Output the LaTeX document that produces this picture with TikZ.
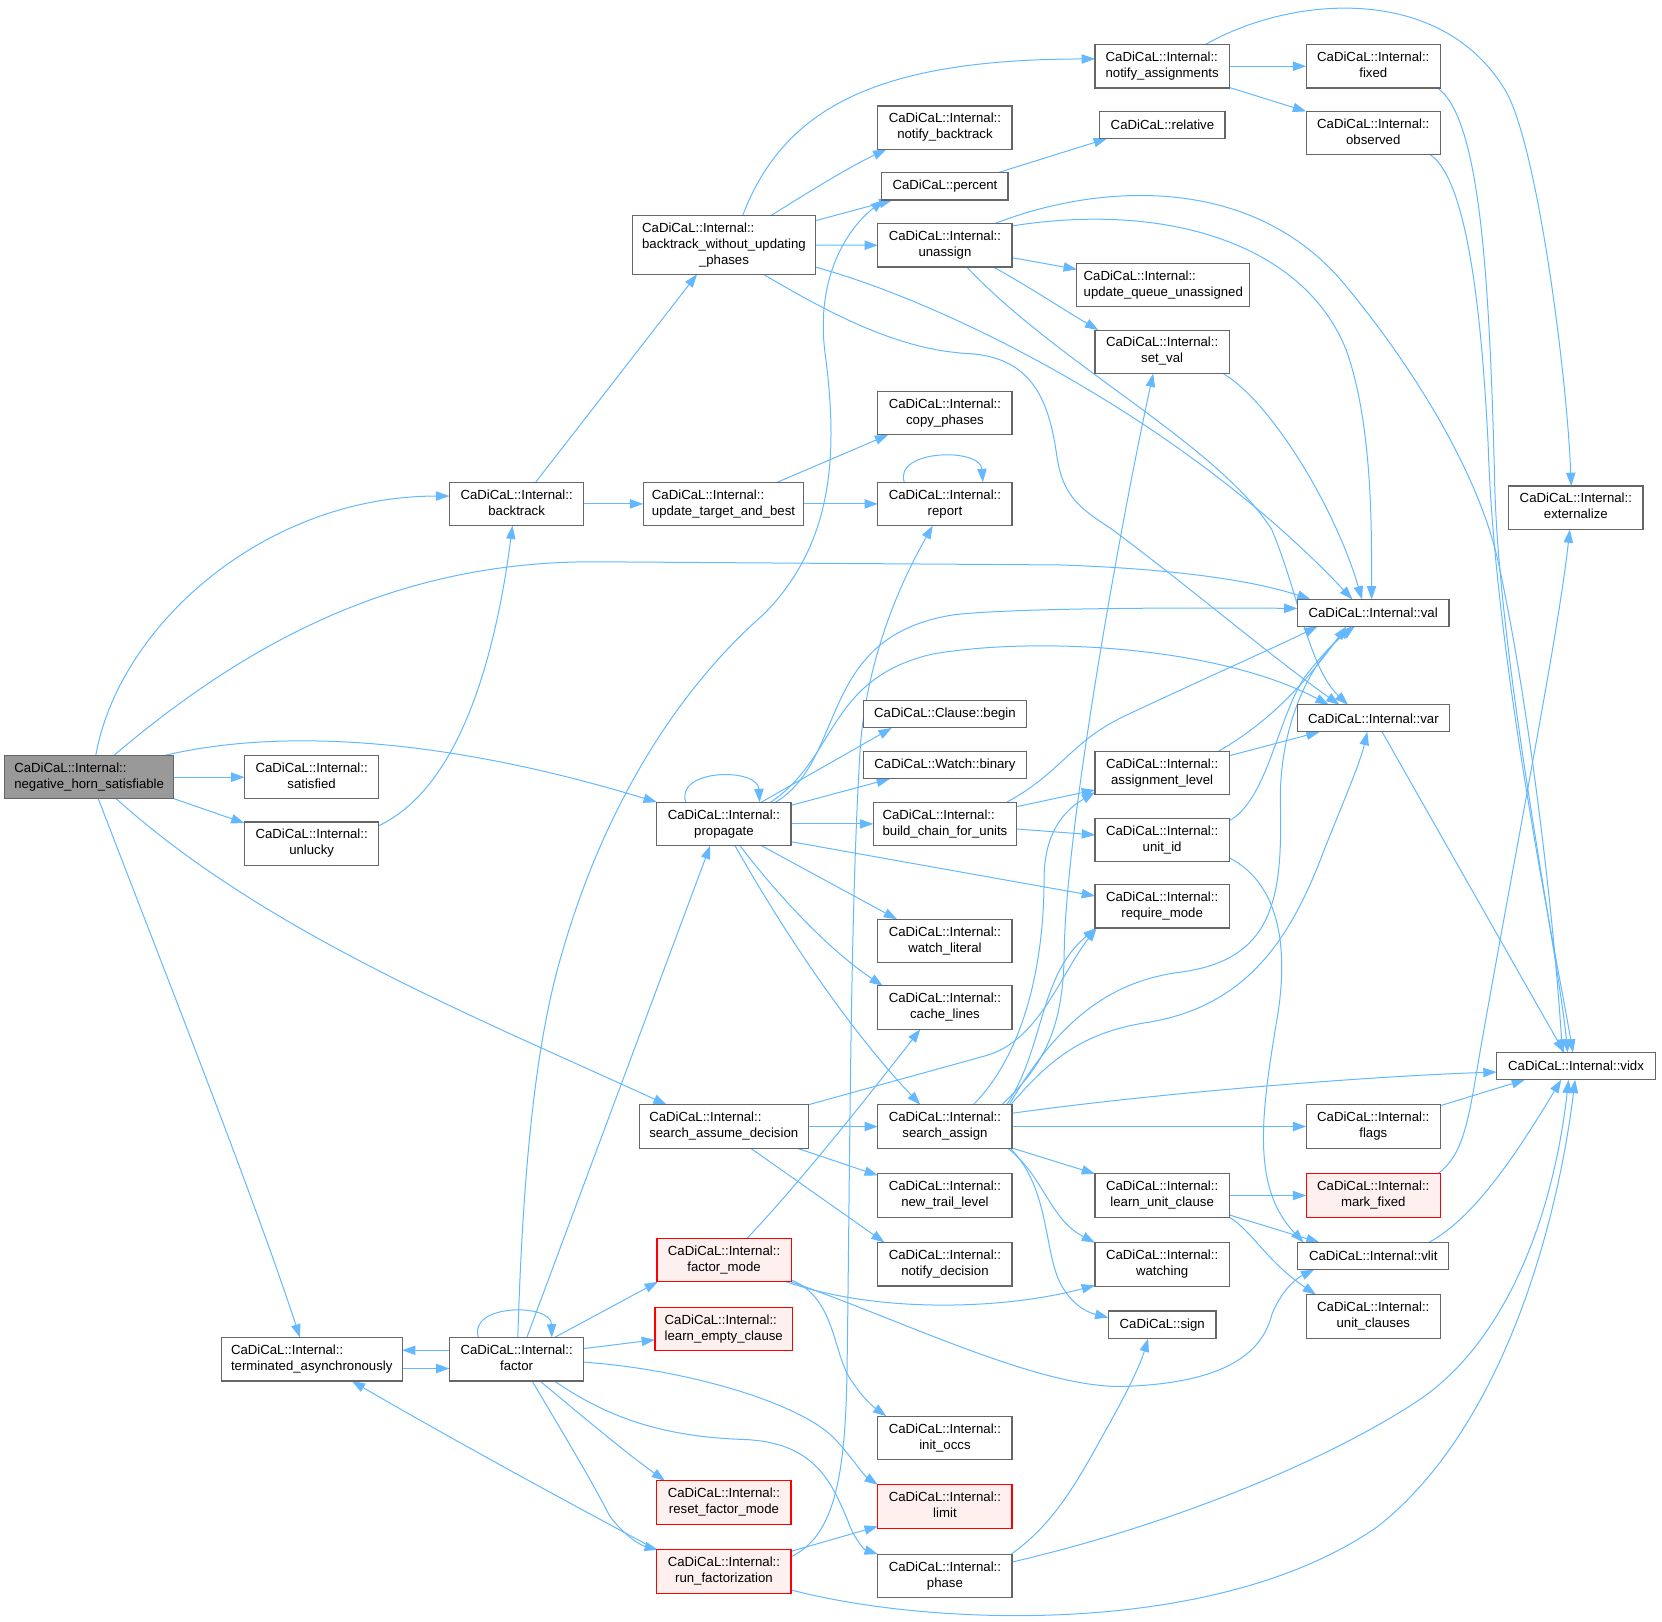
\documentclass[tikz,border=0pt]{standalone}
\usepackage{fontspec}
\setmainfont{Liberation Sans}
\usetikzlibrary{arrows.meta,calc,backgrounds}
\definecolor{edgeblue}{HTML}{63B8FF}
\definecolor{nodeborder}{HTML}{666666}
\definecolor{rootfill}{HTML}{999999}
\definecolor{redfill}{HTML}{FFF0F0}
\newcommand{\cdi}[1]{\begin{tabular}{@{}l@{}}CaDiCaL::Internal::\\\hfil #1\end{tabular}}
\tikzset{
  wh/.style 2 args={minimum width={#1*0.795pt}, minimum height={#2*0.795pt}},
  box/.style={rectangle, draw=nodeborder, fill=white, line width=0.85pt, inner sep=0pt, outer sep=0pt,
              font=\fontsize{9.9}{12}\selectfont, wh={126.6}{41}},
  rbox/.style={box, draw=red, fill=redfill},
  gbox/.style={box, fill=rootfill},
  e/.style={draw=edgeblue, line width=0.75pt, -{Triangle[length=10pt,width=7pt]}},
}
\begin{document}
\begin{tikzpicture}[x=0.795pt, y=-0.795pt]
\useasboundingbox (0,0) rectangle (1568,1530);
% nodes
\node[gbox, wh={159.4}{41}] (N) at (84.1,733.2) {\cdi{negative\_horn\_satisfiable}};
\node[box] (sat) at (294,733.2) {\cdi{satisfied}};
\node[box] (unl) at (294,796) {\cdi{unlucky}};
\node[box, wh={170.5}{41}] (term) at (294.1,1282.4) {\cdi{terminated\_asynchronously}};
\node[box] (bt) at (487.4,475.4) {\cdi{backtrack}};
\node[box] (fac) at (487.4,1282.4) {\cdi{factor}};
\node[box, wh={173}{55}] (bw) at (683,231.2) {\begin{tabular}{@{}l@{}}CaDiCaL::Internal::\\backtrack\_without\_updating\\\hfil \_phases\end{tabular}};
\node[box, wh={151.6}{41}] (utb) at (682.6,475.4) {\cdi{update\_target\_and\_best}};
\node[box] (prop) at (683,777.3) {\cdi{propagate}};
\node[box, wh={159.4}{41}] (sad) at (682.8,1062.8) {\cdi{search\_assume\_decision}};
\node[rbox] (fm) at (683.1,1188.8) {\cdi{factor\_mode}};
\node[rbox, wh={129.7}{41}] (lec) at (682.8,1254) {\cdi{learn\_empty\_clause}};
\node[rbox] (rfm) at (683,1417.6) {\cdi{reset\_factor\_mode}};
\node[rbox] (rf) at (683,1482.7) {\cdi{run\_factorization}};
\node[box] (nb) at (891.5,120.5) {\cdi{notify\_backtrack}};
\node[box, wh={119}{25.5}] (pct) at (891.5,175.9) {CaDiCaL::percent};
\node[box] (una) at (891.5,231.4) {\cdi{unassign}};
\node[box] (cp) at (891.5,389.7) {\cdi{copy\_phases}};
\node[box] (rep) at (891.5,475.4) {\cdi{report}};
\node[box, wh={154.3}{25.5}] (cb) at (891.5,674) {CaDiCaL::Clause::begin};
\node[box, wh={154.3}{25.5}] (wb) at (891.5,722) {CaDiCaL::Watch::binary};
\node[box, wh={135.4}{41}] (bcu) at (891.5,777.3) {\cdi{build\_chain\_for\_units}};
\node[box] (wl) at (891.5,887.8) {\cdi{watch\_literal}};
\node[box] (cl) at (891.5,950.6) {\cdi{cache\_lines}};
\node[box] (sa) at (891.5,1062.8) {\cdi{search\_assign}};
\node[box] (ntl) at (891.5,1127.9) {\cdi{new\_trail\_level}};
\node[box] (nd) at (891.5,1192.7) {\cdi{notify\_decision}};
\node[box] (io) at (891.5,1356.5) {\cdi{init\_occs}};
\node[rbox] (lim) at (891.5,1421.3) {\cdi{limit}};
\node[box] (ph) at (891.5,1486.7) {\cdi{phase}};
\node[box] (na) at (1096.4,62.5) {\cdi{notify\_assignments}};
\node[box, wh={118}{25.5}] (rel) at (1096.7,118) {CaDiCaL::relative};
\node[box, wh={163}{41}] (uqu) at (1097.5,268.7) {\cdi{update\_queue\_unassigned}};
\node[box] (sv) at (1096.4,331.9) {\cdi{set\_val}};
\node[box] (al) at (1096.4,729.3) {\cdi{assignment\_level}};
\node[box] (uid) at (1096.4,792.3) {\cdi{unit\_id}};
\node[box] (rm) at (1096.4,855) {\cdi{require\_mode}};
\node[box] (luc) at (1096.4,1127.9) {\cdi{learn\_unit\_clause}};
\node[box] (wat) at (1096.4,1192.9) {\cdi{watching}};
\node[box, wh={101.5}{26}] (sgn) at (1096.5,1249.8) {CaDiCaL::sign};
\node[box] (fix) at (1295.6,62.5) {\cdi{fixed}};
\node[box] (obs) at (1295.6,125.5) {\cdi{observed}};
\node[box, wh={143}{25.5}] (val) at (1295.5,578.3) {CaDiCaL::Internal::val};
\node[box, wh={143.5}{25.5}] (var) at (1295.7,677.7) {CaDiCaL::Internal::var};
\node[box] (flg) at (1295.6,1062.8) {\cdi{flags}};
\node[rbox] (mf) at (1295.6,1127.9) {\cdi{mark\_fixed}};
\node[box, wh={142.5}{25.5}] (vlit) at (1295.6,1185) {CaDiCaL::Internal::vlit};
\node[box] (uc) at (1295.6,1242) {\cdi{unit\_clauses}};
\node[box] (ext) at (1486.7,479) {\cdi{externalize}};
\node[box, wh={149.7}{25.5}] (vidx) at (1486.9,1005.9) {CaDiCaL::Internal::vidx};
% edges
\begin{scope}[on background layer]
\draw[e] ($(N)+(6.2,-20.2)$) .. controls (112,590) and (250,468) .. ($(bt)+(-63.5,-7.4)$);
\draw[e] ($(N)+(23,-20.2)$) .. controls (240,600) and (380,530) .. (560,530) -- (1000,533) .. controls (1120,537) and (1190,550) .. ($(val)+(-59,-12.75)$);
\draw[e] ($(N)+(69.9,-20.2)$) .. controls (250,690) and (400,690) .. ($(prop)+(-63.3,-20.5)$);
\draw[e] (N.east) -- (sat.west);
\draw[e] ($(N)+(79.7,20.2)$) -- ($(unl)+(-63.3,-19.4)$);
\draw[e] ($(N)+(25.4,20.2)$) .. controls (250,880) and (450,960) .. ($(sad)+(-53.8,-20.5)$);
\draw[e] ($(N)+(8.6,20.2)$) .. controls (145,890) and (240,1130) .. ($(term)+(-11.1,-20.5)$);
\draw[e] ($(unl)+(63.3,-17)$) .. controls (440,740) and (470,600) .. ($(bt)+(-3.9,20.5)$);
\draw[e] ($(bt)+(18,-20.5)$) -- ($(bw)+(-25.3,27.5)$);
\draw[e] (bt.east) -- (utb.west);
\draw[e] ($(bw)+(17.5,-27.5)$) .. controls (740,100) and (830,56) .. ($(na)+(-63.3,-6.9)$);
\draw[e] ($(bw)+(43.8,-27.5)$) .. controls (760,183) and (800,158) .. ($(nb)+(-55.3,20.5)$);
\draw[e] ($(bw)+(86.5,-23)$) -- ($(pct)+(-49.5,12.75)$);
\draw[e] (bw.east) -- (una.west);
\draw[e] ($(bw)+(86.5,20.8)$) .. controls (900,288) and (1120,400) .. ($(val)+(-19.5,-12.75)$);
\draw[e] ($(bw)+(37,27.5)$) .. controls (790,300) and (850,330) .. (913.7,333.6) .. controls (975,337) and (990,380) .. (997,430) .. controls (1003,470) and (1020,480) .. (1050,500) .. controls (1130,560) and (1200,620) .. ($(var)+(-32,-12.75)$);
\draw[e] ($(una)+(20.5,20.5)$) .. controls (1000,345) and (1150,420) .. (1200,500) .. controls (1225,560) and (1235,630) .. ($(var)+(-24,-12.75)$);
\draw[e] ($(una)+(63.3,-18.2)$) .. controls (1100,190) and (1230,230) .. (1270,330) .. controls (1295,400) and (1294,500) .. ($(val)+(-1.5,-12.75)$);
\draw[e] ($(una)+(47.2,-20.5)$) .. controls (1030,175) and (1180,160) .. (1270,270) .. controls (1340,355) and (1395,450) .. (1413,528) .. controls (1440,650) and (1465,850) .. ($(vidx)+(-12.9,-12.75)$);
\draw[e] ($(una)+(63.3,11.7)$) -- ($(uqu)+(-81.5,-14.6)$);
\draw[e] ($(una)+(45.6,20.5)$) .. controls (970,270) and (1000,290) .. ($(sv)+(-60.2,-20.5)$);
\draw[e] ($(sv)+(57.6,20.5)$) .. controls (1200,380) and (1260,480) .. ($(val)+(-10.5,-12.75)$);
\draw[e] ($(pct)+(49.2,-12.75)$) -- ($(rel)+(-52.3,12.75)$);
\draw[e] (na.east) -- (fix.west);
\draw[e] ($(na)+(63.3,20)$) -- ($(obs)+(-63.3,-20.4)$);
\draw[e] ($(na)+(40.8,-20.5)$) .. controls (1220,-5) and (1360,-15) .. (1420,85) .. controls (1450,135) and (1478,350) .. ($(ext)+(-4.3,-20.5)$);
\draw[e] ($(fix)+(60.5,20.5)$) .. controls (1395,110) and (1405,250) .. (1410,450) .. controls (1413,620) and (1470,900) .. ($(vidx)+(-7.9,-12.75)$);
\draw[e] ($(obs)+(53.8,20.5)$) .. controls (1385,170) and (1398,300) .. (1404,420) .. controls (1410,620) and (1468,900) .. ($(vidx)+(-2.9,-12.75)$);
\draw[e] ($(var)+(8.2,12.75)$) -- ($(vidx)+(-11.1,-12.75)$);
\draw[e] ($(utb)+(50.9,-20.5)$) -- ($(cp)+(-53.5,20.5)$);
\draw[e] (utb.east) -- (rep.west);
\draw[e] ($(rep)+(-38.4,-20.5)$) .. controls (843,424) and (925,422) .. ($(rep)+(35.8,-20.5)$);
\draw[e] ($(prop)+(-36.1,-20.5)$) .. controls (637,725) and (715,724) .. ($(prop)+(33.6,-20.5)$);
\draw[e] ($(prop)+(48.8,-20.5)$) .. controls (800,715) and (770,600) .. (900,580) .. controls (950,574) and (1100,573) .. ($(val)+(-71.5,-4.3)$);
\draw[e] ($(prop)+(44,-20.5)$) .. controls (790,715) and (780,640) .. (880,617) .. controls (980,600) and (1150,610) .. ($(var)+(-42,-12.75)$);
\draw[e] ($(prop)+(35.3,-20.5)$) -- ($(cb)+(-50.2,12.75)$);
\draw[e] ($(prop)+(63.3,-17.5)$) -- ($(wb)+(-51.9,12.75)$);
\draw[e] (prop.east) -- (bcu.west);
\draw[e] ($(prop)+(63.3,16.8)$) -- ($(rm)+(-63.3,-9.7)$);
\draw[e] ($(prop)+(35.3,20.5)$) -- ($(wl)+(-45.2,-20.5)$);
\draw[e] ($(prop)+(15.1,20.5)$) .. controls (730,840) and (780,895) .. ($(cl)+(-58.6,-20.5)$);
\draw[e] ($(prop)+(10.4,20.5)$) .. controls (740,880) and (800,970) .. ($(sa)+(-23.2,-20.5)$);
\draw[e] ($(bcu)+(58.2,-20.5)$) .. controls (1000,730) and (1010,700) .. (1060,676) .. controls (1130,643) and (1200,612) .. ($(val)+(-52.5,12.75)$);
\draw[e] ($(bcu)+(67.7,-16.3)$) -- ($(al)+(-63.3,16)$);
\draw[e] ($(bcu)+(67.7,4.8)$) -- ($(uid)+(-63.3,-4.6)$);
\draw[e] ($(al)+(53,-20.5)$) .. controls (1200,680) and (1235,640) .. ($(val)+(-25.5,12.75)$);
\draw[e] ($(al)+(63.3,-16.3)$) -- ($(var)+(-50.7,12.75)$);
\draw[e] ($(uid)+(63.3,-18)$) .. controls (1195,755) and (1205,680) .. (1230,640) .. controls (1245,620) and (1260,605) .. ($(val)+(-20.5,12.75)$);
\draw[e] ($(uid)+(63.3,17)$) .. controls (1210,835) and (1215,900) .. (1205,960) .. controls (1190,1050) and (1180,1120) .. ($(vlit)+(-65.6,-12.75)$);
\draw[e] ($(sa)+(53.5,-20.5)$) .. controls (985,1005) and (1003,970) .. (1004,900) .. controls (1005,780) and (1060,480) .. ($(sv)+(-8.4,20.5)$);
\draw[e] ($(sa)+(26.7,-20.5)$) .. controls (970,990) and (985,900) .. (985,830) .. controls (985,790) and (1000,767) .. ($(al)+(-63.3,18)$);
\draw[e] ($(sa)+(58.2,-20.5)$) .. controls (985,990) and (980,920) .. ($(rm)+(-61.8,20.5)$);
\draw[e] ($(sad)+(79.7,-20.5)$) -- (930,996) .. controls (980,982) and (1000,920) .. ($(rm)+(-61.8,20.5)$);
\draw[e] ($(sa)+(60.5,-20.5)$) .. controls (1000,960) and (1050,925) .. (1115,917) .. controls (1200,905) and (1210,850) .. (1208,760) .. controls (1206,680) and (1240,620) .. ($(val)+(-17.5,12.75)$);
\draw[e] ($(sa)+(62,-20.5)$) .. controls (990,1000) and (1020,975) .. (1080,965) .. controls (1180,950) and (1220,880) .. (1250,800) .. controls (1270,750) and (1283,720) .. ($(var)+(-5.7,12.75)$);
\draw[e] ($(sa)+(63.3,-12.5)$) .. controls (1100,1030) and (1300,1015) .. ($(vidx)+(-74.9,5.5)$);
\draw[e] (sa.east) -- (flg.west);
\draw[e] ($(sa)+(62.7,20.1)$) -- ($(luc)+(-63.3,-20.5)$);
\draw[e] ($(sa)+(59.3,20.5)$) .. controls (985,1110) and (990,1150) .. ($(wat)+(-63.3,-20.5)$);
\draw[e] ($(sa)+(61.5,20.5)$) .. controls (990,1120) and (985,1180) .. (1000,1210) .. controls (1010,1230) and (1025,1238) .. ($(sgn)+(-50.75,-6.8)$);
\draw[e] (luc.east) -- (mf.west);
\draw[e] ($(luc)+(63.3,18.3)$) -- ($(vlit)+(-50.7,-12.75)$);
\draw[e] ($(luc)+(63.3,20.5)$) .. controls (1180,1160) and (1195,1190) .. ($(uc)+(-54,-20.5)$);
\draw[e] ($(flg)+(63.3,-19.7)$) -- ($(vidx)+(-48.2,12.75)$);
\draw[e] ($(mf)+(60.9,-20.5)$) .. controls (1380,1090) and (1385,1060) .. (1395,1000) .. controls (1430,800) and (1470,600) .. ($(ext)+(-5.7,20.5)$);
\draw[e] ($(vlit)+(52.1,-12.75)$) .. controls (1390,1150) and (1430,1090) .. ($(vidx)+(-14,12.75)$);
\draw[e] ($(ph)+(62.7,-20.5)$) .. controls (990,1440) and (1010,1410) .. (1040,1355) .. controls (1060,1320) and (1075,1290) .. ($(sgn)+(-13.3,13)$);
\draw[e] ($(ph)+(63.3,-13)$) .. controls (1100,1440) and (1250,1380) .. (1340,1320) .. controls (1420,1265) and (1465,1150) .. ($(vidx)+(-7,12.75)$);
\draw[e] ($(rf)+(63.3,17.3)$) .. controls (880,1535) and (1150,1545) .. (1300,1440) .. controls (1420,1345) and (1470,1150) .. ($(vidx)+(-0.9,12.75)$);
\draw[e] ($(fac)+(-36,-20.5)$) .. controls (441,1230) and (520,1229) .. ($(fac)+(33.2,-20.5)$);
\draw[e] ($(fac)+(-63.3,-8.5)$) -- ($(term)+(85.25,-8.5)$);
\draw[e] ($(term)+(85.25,8.7)$) -- ($(fac)+(-63.3,8.7)$);
\draw[e] ($(fac)+(1.1,-20.5)$) .. controls (492,1150) and (500,1000) .. (530,900) .. controls (570,760) and (640,650) .. (720,580) .. controls (790,510) and (790,420) .. (778,330) .. controls (770,260) and (800,215) .. ($(pct)+(-57.5,12.75)$);
\draw[e] ($(fac)+(9.6,-20.5)$) -- ($(prop)+(-13,20.5)$);
\draw[e] ($(fac)+(35.6,-20.5)$) -- ($(fm)+(-62.4,20.5)$);
\draw[e] ($(fac)+(63.3,-10.1)$) -- ($(lec)+(-64.85,10)$);
\draw[e] ($(fac)+(63.3,2.7)$) .. controls (650,1292) and (760,1325) .. (790,1360) .. controls (805,1377) and (815,1392) .. ($(lim)+(-63.3,-20.5)$);
\draw[e] ($(fac)+(35.6,20.5)$) .. controls (570,1335) and (620,1355) .. (700,1358) .. controls (770,1360) and (785,1400) .. (800,1435) .. controls (805,1450) and (815,1462) .. ($(ph)+(-63.3,-20.5)$);
\draw[e] ($(fac)+(22,20.5)$) .. controls (560,1345) and (590,1370) .. ($(rfm)+(-55.6,-20.5)$);
\draw[e] ($(fac)+(14.6,20.5)$) .. controls (530,1350) and (560,1400) .. (575,1430) .. controls (590,1450) and (605,1458) .. ($(rf)+(-62.3,-20.5)$);
\draw[e] ($(rf)+(-63.3,-20.5)$) .. controls (550,1425) and (430,1360) .. ($(term)+(37.8,20.5)$);
\draw[e] ($(rf)+(63.3,-14)$) .. controls (785,1450) and (797,1400) .. (799,1300) .. controls (802,1100) and (802,850) .. (812,700) .. controls (820,610) and (855,540) .. ($(rep)+(-11.5,20.5)$);
\draw[e] ($(rf)+(63.3,-19.1)$) -- ($(lim)+(-63.3,18.7)$);
\draw[e] ($(fm)+(21.7,-20.5)$) .. controls (760,1110) and (830,1020) .. ($(cl)+(-23.2,20.5)$);
\draw[e] ($(fm)+(58.8,20.5)$) .. controls (830,1240) and (950,1235) .. ($(wat)+(-63.3,19.7)$);
\draw[e] ($(fm)+(62.2,20.2)$) .. controls (850,1245) and (980,1310) .. (1060,1308) .. controls (1150,1305) and (1190,1280) .. (1200,1240) .. controls (1210,1215) and (1225,1205) .. ($(vlit)+(-55.6,12.75)$);
\draw[e] ($(fm)+(63.3,18.7)$) .. controls (790,1225) and (785,1280) .. (805,1305) .. controls (815,1320) and (825,1328) .. ($(io)+(-55.3,-20.5)$);
\draw[e] (sad.east) -- (sa.west);
\draw[e] ($(sad)+(69.2,20.5)$) -- ($(ntl)+(-63.3,-19)$);
\draw[e] ($(sad)+(25.4,20.5)$) -- ($(nd)+(-57,-20.5)$);
\end{scope}
\end{tikzpicture}
\end{document}
